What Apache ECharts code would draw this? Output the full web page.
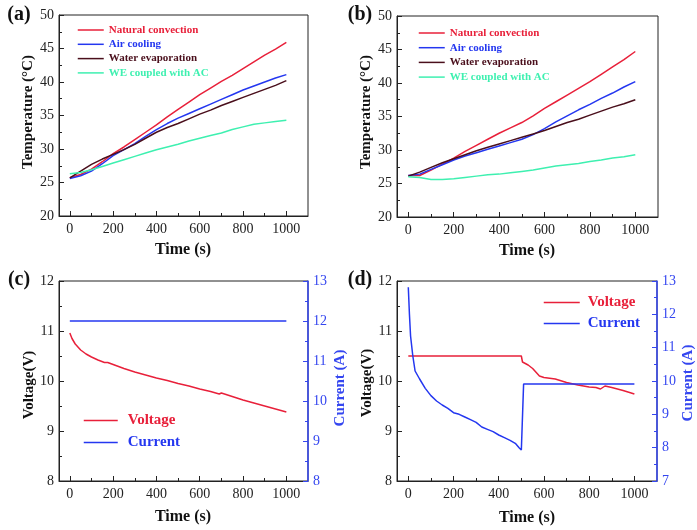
<!DOCTYPE html>
<html><head><meta charset="utf-8">
<script src="https://cdn.jsdelivr.net/npm/echarts@6/dist/echarts.min.js"></script>
<style>html,body{margin:0;padding:0;background:#fff}#c{width:697px;height:530px}</style>
</head><body><div id="c"></div>
<script>
// ---- data ----
const timeAB = [0,50,100,150,200,250,300,350,400,450,500,550,600,650,700,750,800,850,900,950,1000];
const aNatural = [25.7,26.2,27.0,28.1,29.3,30.3,31.4,32.5,33.6,34.8,35.9,37.0,38.1,39.1,40.1,41.0,42.0,43.0,44.0,44.9,45.9];
const aAir     = [25.6,26.0,26.7,27.8,29.0,29.9,30.8,31.9,32.9,33.8,34.6,35.3,36.0,36.7,37.4,38.1,38.8,39.4,40.0,40.6,41.1];
const aWater   = [25.7,26.7,27.7,28.5,29.2,29.9,30.7,31.6,32.5,33.2,33.8,34.5,35.2,35.8,36.5,37.1,37.7,38.3,38.9,39.5,40.2];
const aWEAC    = [26.3,26.5,26.9,27.4,27.9,28.4,28.9,29.4,29.9,30.3,30.7,31.2,31.6,32.0,32.4,32.9,33.3,33.7,33.9,34.1,34.3];
const bNatural = [26.2,26.2,27.0,27.9,28.8,29.8,30.7,31.6,32.5,33.3,34.1,35.1,36.2,37.2,38.2,39.2,40.2,41.3,42.4,43.5,44.7];
const bAir     = [26.2,26.4,27.1,27.8,28.5,29.1,29.6,30.1,30.6,31.1,31.6,32.3,33.2,34.2,35.1,36.0,36.8,37.7,38.5,39.4,40.2];
const bWater   = [26.1,26.7,27.4,28.1,28.7,29.3,29.9,30.4,30.9,31.4,31.9,32.4,32.9,33.5,34.1,34.6,35.2,35.8,36.4,36.9,37.5];
const bWEAC    = [26.0,25.9,25.6,25.6,25.7,25.9,26.1,26.3,26.4,26.6,26.8,27.0,27.3,27.6,27.8,28.0,28.3,28.5,28.8,29.0,29.3];
const cTime    = [0,10,25,50,75,100,130,160,165,175,200,250,300,350,400,450,500,550,600,650,690,700,750,800,850,900,950,1000];
const cVoltage = [10.96,10.85,10.74,10.62,10.54,10.48,10.42,10.37,10.36,10.37,10.33,10.25,10.18,10.12,10.06,10.01,9.95,9.90,9.84,9.79,9.74,9.76,9.69,9.62,9.56,9.50,9.44,9.38];
const cCurTime = [0,1000];
const cCurrent = [12,12];
const dVTime   = [0,500,505,530,550,570,580,600,650,700,750,800,830,850,870,900,950,1000];
const dVoltage = [10.5,10.5,10.38,10.32,10.25,10.15,10.10,10.07,10.04,9.97,9.92,9.88,9.87,9.84,9.90,9.87,9.81,9.74];
const dCTime   = [0,5,10,20,30,50,75,100,125,150,175,200,225,250,275,300,325,350,375,400,425,450,475,490,500,510,1000];
const dCurrent = [12.81,12.0,11.35,10.75,10.3,10.06,9.78,9.56,9.40,9.28,9.18,9.05,9.00,8.92,8.84,8.76,8.62,8.55,8.48,8.38,8.30,8.22,8.12,8.00,7.93,9.91,9.91];
const xMajor = [0,200,400,600,800,1000];
const xMinor = [100,300,500,700,900];
const legAB = ['Natural convection','Air cooling','Water evaporation','WE coupled with AC'];
const legCD = ['Voltage','Current'];

// ---- style ----
const FONT = 'Liberation Serif';
const C = {nat:'#e8203a', air:'#2437f0', water:'#4a0f1c', weac:'#3ef0b0', volt:'#e8203a', cur:'#2437f0', axisBlue:'#3446f0'};
const pair = (xs, ys) => xs.map((x,i)=>[x, ys[i]]);

const grids = [
  {left:59, top:15, width:249, height:201},
  {left:397, top:16, width:261, height:201},
  {left:59, top:281, width:249, height:200},
  {left:397, top:281, width:260, height:200}
].map(g => Object.assign({show:true, borderColor:'#222', borderWidth:1, backgroundColor:'transparent'}, g));

const xAxes = [];
for (let g=0; g<4; g++) {
  xAxes.push({
    type:'value', gridIndex:g, position:'bottom', min:-50, max:1100,
    axisLine:{show:true, onZero:false, lineStyle:{color:'#222', width:1}},
    axisTick:{show:true, inside:true, length:5, customValues:xMajor, lineStyle:{color:'#222'}},
    axisLabel:{show:true, customValues:xMajor, margin:6, fontFamily:FONT, fontSize:14, color:'#222', formatter:v=>String(v)},
    splitLine:{show:false}
  });
}
for (let g=0; g<4; g++) {
  xAxes.push({
    type:'value', gridIndex:g, position:'bottom', min:-50, max:1100,
    axisLine:{show:false, onZero:false},
    axisTick:{show:true, inside:true, length:3, customValues:xMinor, lineStyle:{color:'#222'}},
    axisLabel:{show:false},
    splitLine:{show:false}
  });
}
const yLeft = (g, min, max) => ({
  type:'value', gridIndex:g, position:'left', min:min, max:max, interval: (max-min>10?5:1),
  axisLine:{show:true, onZero:false, lineStyle:{color:'#222', width:1}},
  axisTick:{show:true, inside:true, length:5, lineStyle:{color:'#222'}},
  minorTick:{show:true, splitNumber:2, length:3, lineStyle:{color:'#222'}},
  axisLabel:{margin:5, fontFamily:FONT, fontSize:14, color:'#222'},
  splitLine:{show:false}
});
const yRight = (g, min, max) => ({
  type:'value', gridIndex:g, position:'right', min:min, max:max, interval:1,
  axisLine:{show:true, onZero:false, lineStyle:{color:C.axisBlue, width:1.5}},
  axisTick:{show:true, inside:true, length:5, lineStyle:{color:C.axisBlue}},
  minorTick:{show:true, splitNumber:2, length:3, lineStyle:{color:C.axisBlue}},
  axisLabel:{margin:5, fontFamily:FONT, fontSize:14, color:C.axisBlue},
  splitLine:{show:false}
});
const yAxes = [yLeft(0,20,50), yLeft(1,20,50), yLeft(2,8,12), yRight(2,8,13), yLeft(3,8,12), yRight(3,7,13)];

const line = (name, color, xi, yi, data) => ({
  name, type:'line', xAxisIndex:xi, yAxisIndex:yi, data, symbol:'none', showSymbol:false, smooth:false,
  lineStyle:{color, width:1.5}, itemStyle:{color}, animation:false
});
const series = [
  line(legAB[0], C.nat, 0, 0, pair(timeAB, aNatural)),
  line(legAB[1], C.air, 0, 0, pair(timeAB, aAir)),
  line(legAB[2], C.water, 0, 0, pair(timeAB, aWater)),
  line(legAB[3], C.weac, 0, 0, pair(timeAB, aWEAC)),
  line(legAB[0], C.nat, 1, 1, pair(timeAB, bNatural)),
  line(legAB[1], C.air, 1, 1, pair(timeAB, bAir)),
  line(legAB[2], C.water, 1, 1, pair(timeAB, bWater)),
  line(legAB[3], C.weac, 1, 1, pair(timeAB, bWEAC)),
  line(legCD[0], C.volt, 2, 2, pair(cTime, cVoltage)),
  line(legCD[1], C.cur, 2, 3, pair(cCurTime, cCurrent)),
  line(legCD[0], C.volt, 3, 4, pair(dVTime, dVoltage)),
  line(legCD[1], C.cur, 3, 5, pair(dCTime, dCurrent))
];
const abColors = [C.nat, C.air, C.water, C.weac];
const legAData = legAB.map((n,i)=>({name:n, textStyle:{color:abColors[i]}}));
const legCData = [{name:legCD[0], textStyle:{color:C.volt}}, {name:legCD[1], textStyle:{color:C.cur}}];
const legendBase = {orient:'vertical', selectedMode:false, padding:0, itemStyle:{opacity:0}, lineStyle:{width:1.5}};
const legends = [
  Object.assign({}, legendBase, {left:77, top:24.5, itemWidth:26, itemHeight:10, itemGap:3.3, data:legAData,
    textStyle:{fontFamily:FONT, fontSize:11, fontWeight:'bold'}}),
  Object.assign({}, legendBase, {left:418, top:27.5, itemWidth:26, itemHeight:10, itemGap:3.7, data:legAData,
    textStyle:{fontFamily:FONT, fontSize:11, fontWeight:'bold'}}),
  Object.assign({}, legendBase, {left:83, top:413, itemWidth:34, itemHeight:14, itemGap:7, data:legCData,
    textStyle:{fontFamily:FONT, fontSize:15, fontWeight:'bold', padding:[0,0,0,5]}}),
  Object.assign({}, legendBase, {left:543, top:295, itemWidth:36, itemHeight:14, itemGap:6, data:legCData,
    textStyle:{fontFamily:FONT, fontSize:15, fontWeight:'bold', padding:[0,0,0,3]}})
];

const txt = (text, x, y, opts) => ({
  type:'text', x, y, rotation: (opts && opts.rot) ? Math.PI/2 : 0,
  style:{text, fontFamily:FONT, fontSize:(opts&&opts.size)||15, fontWeight:'bold', fill:(opts&&opts.color)||'#111',
    textAlign:'center', textVerticalAlign:'middle'}
});
const graphic = [
  txt('(a)', 19, 15, {size:20}), txt('(b)', 360, 15, {size:20}),
  txt('(c)', 19, 280, {size:20}), txt('(d)', 360, 280, {size:20}),
  txt('Temperature (°C)', 28, 112, {rot:true}), txt('Temperature (°C)', 366, 112, {rot:true}),
  txt('Voltage(V)', 29, 385, {rot:true}), txt('Voltage(V)', 367, 383, {rot:true}),
  txt('Current (A)', 340, 388, {rot:true, color:C.axisBlue}), txt('Current (A)', 688, 383, {rot:true, color:C.axisBlue}),
  txt('Time (s)', 183, 250, {size:16}), txt('Time (s)', 527, 251, {size:16}),
  txt('Time (s)', 183, 517, {size:16}), txt('Time (s)', 527, 518, {size:16})
];

const chart = echarts.init(document.getElementById('c'), null, {renderer:'canvas'});
chart.setOption({
  animation:false, backgroundColor:'#fff',
  grid:grids, xAxis:xAxes, yAxis:yAxes, series, legend:legends, graphic
});
</script></body></html>
